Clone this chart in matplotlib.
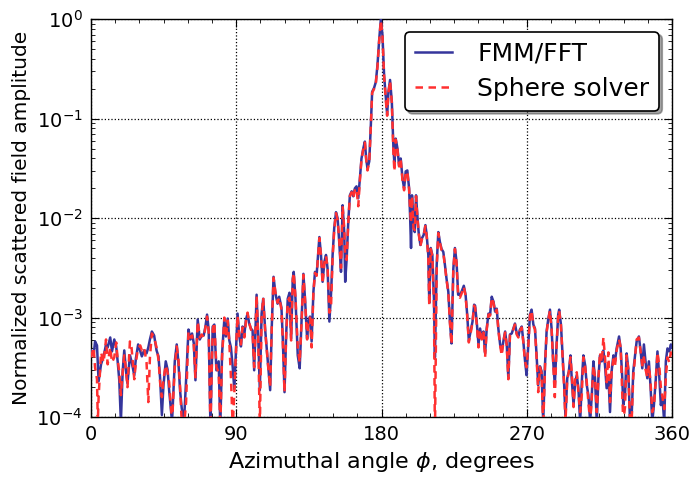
import numpy as np
import matplotlib
matplotlib.use("Agg")
import matplotlib.pyplot as plt
from matplotlib.ticker import MultipleLocator, LogLocator

# Azimuthal angle (degrees) of the points
phi = [
    0.0, 1.6, 2.5, 3.7, 4.2, 4.7, 6.2, 7.8, 9.3, 10.3, 11.9, 13.0, 14.4, 15.6, 16.5, 17.5, 18.5, 19.6,
    20.6, 21.6, 22.6, 24.1, 25.1, 26.8, 27.8, 29.2, 30.5, 31.5, 32.9, 34.4, 35.5, 36.5, 37.7, 39.1,
    40.6, 41.8, 42.8, 43.9, 44.9, 46.3, 47.4, 48.4, 49.4, 50.2, 51.9, 53.1, 54.1, 55.2, 56.2, 57.6,
    58.9, 60.4, 61.6, 62.6, 63.7, 64.7, 66.1, 67.4, 68.6, 69.8, 70.9, 71.9, 72.9, 74.0, 75.4, 76.4,
    77.7, 79.1, 80.1, 81.2, 82.6, 83.6, 84.7, 85.7, 86.7, 87.8, 88.8, 89.8, 90.8, 91.9, 92.9, 93.9,
    95.0, 96.0, 97.0, 98.0, 99.1, 100.1, 101.1, 101.8, 102.6, 103.6, 104.6, 105.7, 106.7, 107.9,
    109.0, 109.8, 111.0, 112.0, 113.1, 114.3, 115.6, 116.6, 118.0, 118.8, 119.9, 120.9, 121.9, 123.0,
    124.0, 125.0, 125.6, 126.7, 128.1, 129.3, 130.6, 131.6, 132.6, 133.9, 134.7, 135.7, 136.7, 137.8,
    138.8, 139.8, 141.5, 142.5, 143.5, 144.6, 145.6, 146.6, 147.7, 148.7, 149.7, 150.7, 151.8, 152.8,
    153.8, 154.9, 155.9, 156.9, 157.5, 158.4, 159.4, 160.4, 161.5, 162.5, 163.5, 164.5, 165.6, 166.6,
    167.6, 168.7, 169.7, 170.5, 171.3, 172.4, 173.4, 174.2, 175.4, 176.5, 177.5, 178.5, 179.6, 180.6,
    181.6, 182.7, 183.5, 184.3, 185.3, 186.4, 187.4, 188.0, 188.8, 189.9, 190.9, 191.9, 193.0, 194.0,
    195.0, 196.0, 197.1, 197.7, 198.3, 198.9, 199.8, 200.6, 201.4, 202.2, 203.0, 204.1, 205.1, 206.1,
    207.2, 208.0, 209.0, 209.6, 210.5, 211.5, 212.5, 213.1, 214.2, 215.2, 216.2, 217.2, 218.3, 219.3,
    220.3, 221.4, 222.4, 223.4, 224.5, 225.5, 226.5, 227.5, 228.6, 229.6, 231.0, 232.1, 233.1, 234.1,
    235.2, 236.4, 237.4, 238.0, 239.1, 240.1, 241.1, 242.1, 243.2, 244.2, 245.2, 246.3, 247.3, 248.3,
    249.4, 250.4, 251.4, 252.4, 253.5, 254.5, 255.5, 256.6, 257.6, 258.6, 259.6, 260.7, 261.7, 262.7,
    263.8, 264.8, 265.8, 266.9, 267.9, 268.9, 269.9, 271.0, 272.0, 273.0, 274.1, 275.1, 276.1, 277.1,
    278.2, 279.2, 280.2, 281.3, 282.3, 283.3, 284.4, 285.4, 286.4, 287.4, 288.5, 289.5, 290.1, 291.2,
    292.2, 293.2, 294.0, 295.1, 296.1, 297.1, 297.9, 299.0, 300.0, 301.0, 302.0, 303.1, 304.1, 305.1,
    306.2, 307.2, 308.2, 309.3, 310.3, 311.3, 312.3, 313.4, 314.4, 315.4, 316.5, 317.5, 318.5, 319.5,
    320.6, 321.6, 322.6, 323.7, 324.7, 325.7, 327.2, 328.2, 329.2, 329.8, 330.9, 331.9, 332.9, 334.0,
    335.0, 336.0, 338.1, 339.5, 340.6, 341.6, 342.6, 343.6, 344.7, 345.7, 346.7, 347.8, 348.8, 350.0,
    351.0, 352.1, 353.1, 354.1, 355.2, 356.2, 357.2, 358.3, 359.3, 360.0,
]

# Decade exponent (log10) of the normalized amplitude, FMM/FFT
fmm_log10 = [
    -3.33, -3.38, -3.24, -3.28, -3.45, -3.64, -3.47, -3.39, -3.27, -3.30, -3.20, -3.34, -3.22, -3.29, -3.44, -3.63, -4.05, -3.54,
    -3.33, -3.53, -3.66, -3.38, -3.44, -3.58, -3.41, -3.27, -3.34, -3.39, -3.33, -3.36, -3.30, -3.22, -3.14, -3.18,
    -3.33, -3.39, -3.61, -3.98, -3.68, -3.44, -3.52, -3.73, -3.91, -4.05, -3.44, -3.27, -3.44, -3.74, -3.91, -4.05,
    -3.63, -3.12, -3.22, -3.16, -3.26, -3.63, -3.02, -3.22, -3.18, -3.18, -3.09, -2.97, -3.12, -4.10, -3.09, -3.07,
    -3.53, -3.44, -4.10, -3.36, -3.02, -3.19, -3.01, -3.23, -3.30, -3.50, -3.72, -3.33, -2.96, -3.19, -3.29, -3.09,
    -3.17, -3.02, -2.96, -3.06, -3.11, -3.13, -3.53, -3.19, -2.77, -3.19, -3.73, -2.96, -2.81, -3.12,
    -3.33, -3.49, -3.73, -3.09, -2.59, -2.76, -2.86, -2.79, -2.90, -3.20, -3.75, -3.18, -2.81, -2.75,
    -3.21, -2.61, -2.54, -2.81, -3.38, -3.51, -2.98, -2.56, -2.81, -3.21, -3.04, -2.99, -3.24, -2.74,
    -2.54, -2.57, -2.19, -2.37, -2.64, -2.44, -2.37, -2.51, -3.04, -2.77, -2.37, -2.10, -1.94, -2.00,
    -2.24, -2.54, -1.87, -2.14, -2.64, -2.41, -2.04, -1.77, -1.73, -1.78, -1.70, -1.68, -1.80, -1.60,
    -1.40, -1.30, -1.23, -1.40, -1.50, -1.43, -1.06, -0.73, -0.69, -0.63, -0.46, -0.22, 0.00, -0.16,
    -0.56, -0.80, -0.96, -0.73, -0.61, -0.83, -1.30, -1.45, -1.20, -1.30, -1.47, -1.40, -1.60, -1.70,
    -1.53, -1.52, -1.70, -1.97, -2.30, -1.77, -2.04, -2.14, -1.77, -1.97, -2.14, -2.27, -2.20, -2.17,
    -2.07, -2.17, -2.37, -2.85, -2.30, -2.37, -2.81, -3.40, -2.47, -2.14, -2.24, -2.31, -2.34, -2.47,
    -2.61, -2.74, -3.04, -3.26, -2.51, -2.30, -2.44, -2.77, -2.77, -2.74, -2.68, -2.77, -2.97, -3.23,
    -3.14, -3.04, -2.87, -2.88, -3.06, -3.27, -3.11, -3.21, -3.14, -3.36, -3.11, -2.96, -2.97, -2.79,
    -2.84, -2.94, -2.91, -3.11, -3.27, -3.34, -3.24, -3.14, -3.27, -3.61, -3.17, -3.16, -3.11, -3.06,
    -3.16, -3.19, -3.12, -3.09, -3.24, -3.43, -3.58, -3.27, -2.97, -2.92, -3.07, -3.11, -3.38, -3.68,
    -3.49, -3.54, -4.05, -3.48, -3.14, -3.02, -2.92, -3.11, -3.44, -3.68, -3.27, -2.97, -2.92, -3.07,
    -3.38, -3.68, -4.00, -3.61, -3.54, -3.38, -3.62, -3.88, -3.65, -3.58, -3.71, -4.05, -3.65, -3.38,
    -3.48, -3.68, -3.78, -4.05, -3.78, -3.44, -3.61, -4.05, -3.61, -3.38, -3.44, -3.33, -3.48, -3.71,
    -3.58, -3.95, -3.54, -3.38, -3.44, -3.31, -3.19, -3.31, -3.61, -3.88, -3.78, -3.36, -3.51, -4.05,
    -4.00, -3.54, -3.24, -3.19, -3.34, -3.51, -3.27, -3.44, -3.61, -3.44, -3.69, -4.05, -3.88, -3.61,
    -3.34, -3.58, -3.88, -3.81, -4.05, -3.44, -3.31, -3.34, -3.27, -3.30,
]

# Decade exponent (log10) of the normalized amplitude, sphere solver
sphere_log10 = [
    -3.40, -3.30, -3.50, -3.62, -4.05, -3.80, -3.35, -3.45, -3.22, -3.47, -3.30, -3.45, -3.40, -3.25, -3.42, -3.55, -3.78, -3.55,
    -3.38, -3.52, -3.70, -3.24, -3.30, -3.62, -3.45, -3.30, -3.28, -3.33, -3.30, -3.45, -3.85, -3.40, -3.16, -3.20,
    -3.30, -3.42, -3.65, -3.80, -3.62, -3.48, -3.55, -3.65, -3.88, -4.05, -3.50, -3.29, -3.40, -3.70, -4.05, -4.10,
    -3.85, -3.14, -3.20, -3.18, -3.28, -3.60, -3.04, -3.20, -3.17, -3.20, -3.10, -2.99, -3.14, -4.10, -3.12, -3.05,
    -3.50, -3.55, -4.10, -3.40, -3.00, -3.20, -3.03, -3.25, -3.60, -4.10, -3.75, -3.35, -2.98, -3.20, -3.27, -3.10,
    -3.20, -3.04, -2.95, -3.05, -3.12, -3.15, -3.50, -3.20, -2.78, -3.20, -4.10, -3.00, -2.80, -3.13,
    -3.35, -3.50, -3.70, -3.10, -2.60, -2.75, -2.85, -2.80, -2.92, -3.22, -3.75, -3.20, -2.83, -2.80,
    -3.23, -2.63, -2.55, -2.80, -3.30, -3.45, -3.00, -2.57, -2.82, -3.22, -3.05, -3.00, -3.30, -2.75,
    -2.55, -2.58, -2.20, -2.38, -2.66, -2.45, -2.38, -2.50, -2.95, -2.90, -2.40, -2.12, -1.95, -2.02,
    -2.22, -2.50, -1.88, -2.10, -2.40, -2.42, -2.05, -1.78, -1.74, -1.80, -1.71, -1.70, -1.88, -1.62,
    -1.41, -1.31, -1.24, -1.41, -1.52, -1.44, -1.07, -0.74, -0.70, -0.64, -0.48, -0.23, -0.01, -0.17,
    -0.57, -0.82, -0.97, -0.74, -0.62, -0.84, -1.35, -1.53, -1.21, -1.31, -1.48, -1.41, -1.62, -1.72,
    -1.54, -1.53, -1.71, -1.90, -2.05, -1.78, -2.10, -2.12, -1.78, -1.98, -2.15, -2.28, -2.21, -2.18,
    -2.08, -2.18, -2.40, -2.88, -2.31, -2.38, -2.85, -4.20, -2.50, -2.15, -2.25, -2.32, -2.35, -2.48,
    -2.62, -2.75, -3.05, -3.27, -2.52, -2.31, -2.45, -2.78, -2.80, -2.76, -2.69, -2.78, -2.98, -3.25,
    -3.16, -3.05, -2.88, -2.90, -3.08, -3.30, -3.12, -3.22, -3.15, -3.40, -3.12, -2.97, -2.98, -2.80,
    -2.85, -2.95, -2.92, -3.12, -3.28, -3.38, -3.25, -3.15, -3.28, -3.62, -3.18, -3.17, -3.12, -3.07,
    -3.17, -3.20, -3.13, -3.10, -3.25, -3.44, -3.50, -3.28, -2.98, -2.93, -3.08, -3.12, -3.40, -3.75,
    -3.50, -3.56, -4.10, -3.50, -3.15, -3.03, -2.93, -3.12, -3.46, -3.80, -3.28, -2.98, -2.93, -3.08,
    -3.40, -3.70, -4.05, -3.62, -3.55, -3.40, -3.55, -3.90, -3.60, -3.55, -3.75, -3.95, -3.78, -3.40,
    -3.50, -3.65, -3.85, -4.05, -3.80, -3.48, -3.60, -3.95, -3.62, -3.35, -3.45, -3.20, -3.40, -3.65,
    -3.35, -3.85, -3.55, -3.42, -3.48, -3.33, -3.22, -3.30, -3.75, -4.05, -3.90, -3.38, -3.52, -4.05,
    -4.05, -3.60, -3.22, -3.20, -3.35, -3.48, -3.40, -3.52, -3.60, -3.48, -3.65, -3.95, -3.90, -3.62,
    -3.35, -3.48, -3.70, -3.80, -3.92, -3.60, -3.40, -3.45, -3.35, -3.38,
]

x_ticks = [0, 90, 180, 270, 360]


def make_figure():
    plt.rcParams["axes.unicode_minus"] = False
    plt.rcParams["font.family"] = "DejaVu Sans"

    fig = plt.figure(figsize=(6.97, 4.80), dpi=100)
    ax = fig.add_axes([0.1306, 0.1312, 0.8335, 0.8286])

    angle = np.array(phi)
    # the chart's values were read as decades on the log axis
    ax.plot(angle, 10.0 ** np.array(fmm_log10), color="#35359c", lw=1.8,
            label="FMM/FFT", zorder=3)
    ax.plot(angle, 10.0 ** np.array(sphere_log10), color="#ff3030", lw=1.8,
            ls="--", dashes=(3, 2.2), label="Sphere solver", zorder=4)

    ax.set_yscale("log")
    ax.set_xlim(0, 360)
    ax.set_ylim(1e-4, 1)
    ax.set_xticks(x_ticks)
    ax.xaxis.set_minor_locator(MultipleLocator(15))
    ax.yaxis.set_minor_locator(LogLocator(base=10, subs=np.arange(2, 10)))

    ax.tick_params(which="both", direction="in", top=True, right=True)
    ax.tick_params(which="major", length=6, labelsize=14, pad=6)
    ax.tick_params(which="minor", length=3)
    ax.grid(True, which="major", color="k", ls=":", lw=0.9)

    for spine in ax.spines.values():
        spine.set_linewidth(1.0)

    ax.set_xlabel(r"Azimuthal angle $\phi$, degrees", fontsize=16, labelpad=4)
    ax.set_ylabel("Normalized scattered field amplitude", fontsize=14.5, labelpad=4)

    leg = ax.legend(loc="upper right", fontsize=18, fancybox=True, shadow=True,
                    handlelength=1.5, handletextpad=1.0, labelspacing=0.45,
                    borderaxespad=0.5, framealpha=1.0)
    leg.get_frame().set_edgecolor("black")
    leg.get_frame().set_linewidth(1.2)
    return fig


if __name__ == "__main__":
    fig = make_figure()
    fig.savefig("out.png", dpi=100, facecolor="white")
